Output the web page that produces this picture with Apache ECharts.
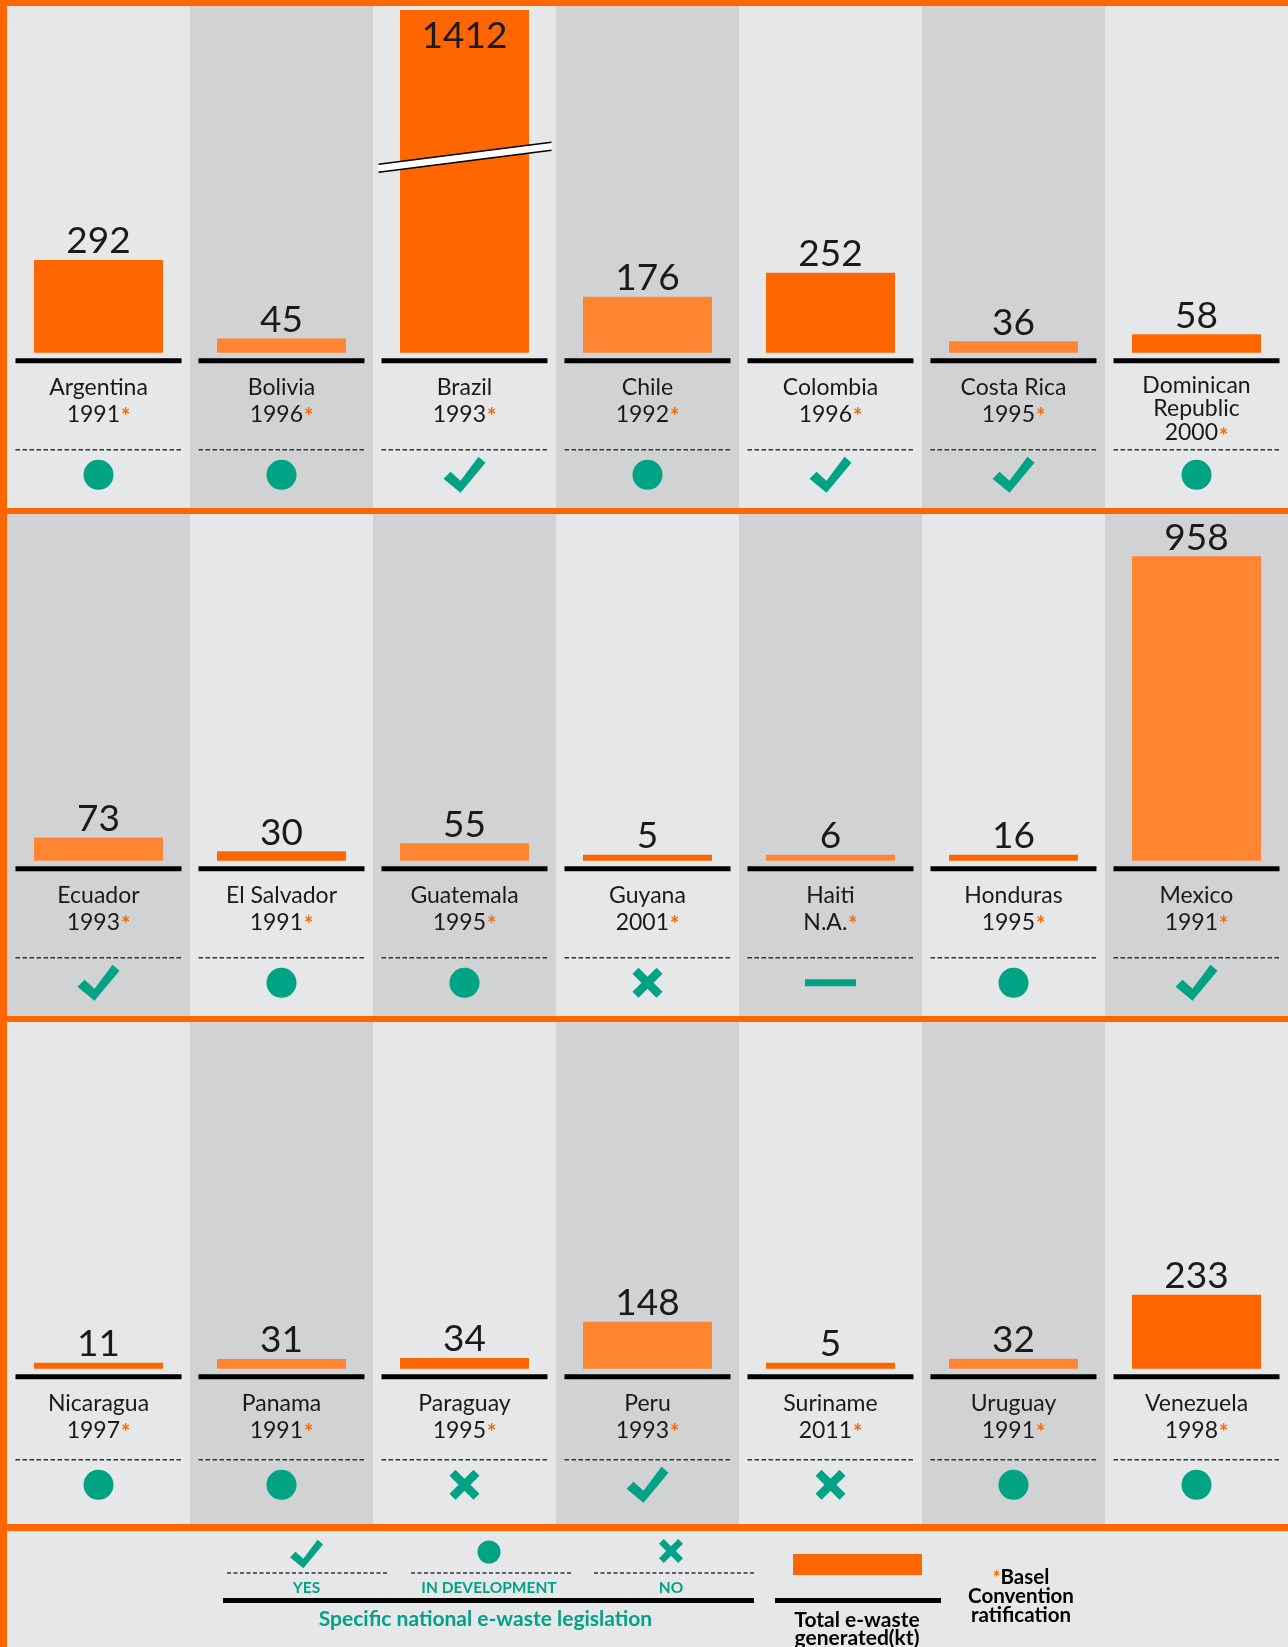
<!DOCTYPE html>
<html>
<head>
<meta charset="utf-8">
<title>E-waste in Latin America</title>
<style>
  html, body { margin: 0; padding: 0; background: #ff6600; }
  #chart { width: 1288px; height: 1647px; }
</style>
<script src="https://cdn.jsdelivr.net/npm/echarts@6/dist/echarts.min.js"></script>
</head>
<body>
<div id="chart"></div>
<script>
// data, in the order of the picture (3 rows of 7)
const countries = [
  'Argentina', 'Bolivia', 'Brazil', 'Chile', 'Colombia', 'Costa Rica', 'Dominican\nRepublic',
  'Ecuador', 'El Salvador', 'Guatemala', 'Guyana', 'Haiti', 'Honduras', 'Mexico',
  'Nicaragua', 'Panama', 'Paraguay', 'Peru', 'Suriname', 'Uruguay', 'Venezuela'
]
const baselYears = [
  '1991', '1996', '1993', '1992', '1996', '1995', '2000',
  '1993', '1991', '1995', '2001', 'N.A.', '1995', '1991',
  '1997', '1991', '1995', '1993', '2011', '1991', '1998'
]
// total e-waste generated (kt)
const ewasteKt = [
  292, 45, 1412, 176, 252, 36, 58,
  73, 30, 55, 5, 6, 16, 958,
  11, 31, 34, 148, 5, 32, 233
]
// specific national e-waste legislation: yes / dev / no / na
const legislation = [
  'dev', 'dev', 'yes', 'dev', 'yes', 'yes', 'dev',
  'yes', 'dev', 'dev', 'no', 'na', 'dev', 'yes',
  'dev', 'dev', 'no', 'yes', 'no', 'dev', 'dev'
]
const legendLabels = ['YES', 'IN DEVELOPMENT', 'NO']

//* styles
const ORANGE = '#ff6600'
const ORANGE_LIGHT = '#ff8533'
const BG_LIGHT = '#e6e7e8'
const BG_DARK = '#d1d2d4'
const TEAL = '#00a383'
const INK = '#1a1a1a'
const FONT = 'Lato, "Open Sans", sans-serif'

const PANEL_TOP = [6, 514, 1022]
const PANEL_H = 502
const COL_W = 183.7
const PER_ROW = 7
const Y_MIN = -488
const Y_MAX = 1078
// the last row has its dashed rule and icons a little higher
const ROW_SHIFT = [0, 0, -6]

// icon outlines (check 42x36, cross 30x30)
const CHECK_PTS = [[0, 22], [7, 15], [17, 24], [35, 0], [42, 6], [17, 36]]
const CROSS_PTS = [[0, 6], [6, 0], [15, 9], [24, 0], [30, 6], [21, 15], [30, 24], [24, 30], [15, 21], [6, 30], [0, 24], [9, 15]]

function placePts(pts, w, h, cx, cy, k) {
  return pts.map(q => [cx + (q[0] - w / 2) * k, cy + (q[1] - h / 2) * k])
}

function statusIcon(status, cx, cy, scale) {
  const k = scale || 1
  if (status === 'yes') {
    return { type: 'polygon', shape: { points: placePts(CHECK_PTS, 42, 36, cx, cy, k) }, style: { fill: TEAL } }
  }
  if (status === 'no') {
    return { type: 'polygon', shape: { points: placePts(CROSS_PTS, 30, 30, cx, cy, k) }, style: { fill: TEAL } }
  }
  if (status === 'dev') {
    return { type: 'circle', shape: { cx: cx, cy: cy, r: 15 * k }, style: { fill: TEAL } }
  }
  return { type: 'rect', shape: { x: cx - 25.5 * k, y: cy - 3.5 * k, width: 51 * k, height: 7 * k }, style: { fill: TEAL } }
}

const grid = []
const xAxis = []
const yAxis = []
const series = []

for (let p = 0; p < 3; p++) {
  const from = p * PER_ROW
  const names = countries.slice(from, from + PER_ROW)
  const shift = ROW_SHIFT[p]
  grid.push({ left: 7, top: PANEL_TOP[p] + 4, width: COL_W * PER_ROW, height: PANEL_H - 4 })
  xAxis.push({ gridIndex: p, type: 'category', data: names, show: false })
  yAxis.push({ gridIndex: p, type: 'value', min: Y_MIN, max: Y_MAX, show: false })

  // column backgrounds, base line, country / year, legislation icon
  series.push({
    type: 'custom',
    xAxisIndex: p,
    yAxisIndex: p,
    z: 1,
    silent: true,
    data: names.map((n, i) => [i, 0]),
    encode: { x: 0, y: 1 },
    renderItem: (params, api) => {
      const gi = from + params.dataIndex
      const pt = api.coord([api.value(0), 0])
      const cx = pt[0]
      const zy = pt[1]
      const colW = api.size([1, 0])[0]
      const top = params.coordSys.y - 4
      const lines = countries[gi].split('\n')
      const lh = lines.length > 1 ? 23.5 : 27
      const text = lines.map(l => '{n|' + l + '}').join('\n') + '\n{n|' + baselYears[gi] + '}{a|*}'
      return {
        type: 'group',
        children: [
          { type: 'rect', shape: { x: cx - colW / 2, y: top, width: colW, height: PANEL_H }, style: { fill: gi % 2 ? BG_DARK : BG_LIGHT } },
          { type: 'rect', shape: { x: cx - 83, y: zy + 5.5, width: 166, height: 5 }, style: { fill: '#000' } },
          {
            type: 'text',
            x: cx,
            y: zy + 21,
            style: {
              text: text,
              align: 'center',
              verticalAlign: 'top',
              rich: {
                n: { fontSize: 23, fontFamily: FONT, fill: INK, lineHeight: lh },
                a: { fontSize: 22, fontFamily: FONT, fill: ORANGE, fontWeight: 'bold', lineHeight: 16, verticalAlign: 'top', padding: [5, 0, 0, 1] }
              }
            }
          },
          { type: 'line', shape: { x1: cx - 83, y1: zy + 97 + shift, x2: cx + 83, y2: zy + 97 + shift }, style: { stroke: '#333', lineWidth: 1.5, lineDash: [4.5, 2.5] } },
          statusIcon(legislation[gi], cx, zy + 122 + shift)
        ]
      }
    }
  })

  // e-waste bars
  series.push({
    type: 'bar',
    xAxisIndex: p,
    yAxisIndex: p,
    z: 3,
    barWidth: 129,
    barMinHeight: 6,
    clip: true,
    label: {
      show: true,
      position: 'top',
      distance: 0,
      fontSize: 37,
      fontFamily: FONT,
      color: INK
    },
    data: ewasteKt.slice(from, from + PER_ROW).map((v, i) => {
      const gi = from + i
      const item = { value: v, itemStyle: { color: gi % 2 ? ORANGE_LIGHT : ORANGE } }
      if (v > Y_MAX) {
        // broken bar: value written inside its top
        item.label = { position: 'insideTop', distance: 8 }
      }
      return item
    })
  })
}

//* legend
const legendCenters = [306.5, 489, 671]
const legendDash = [[227, 387], [411, 572], [594, 754]]
const legendGraphics = [
  { type: 'rect', shape: { x: 7, y: 1531, width: 1281, height: 116 }, style: { fill: BG_LIGHT } },
  statusIcon('yes', legendCenters[0], 1554, 0.79),
  { type: 'circle', shape: { cx: legendCenters[1], cy: 1552, r: 11.5 }, style: { fill: TEAL } },
  statusIcon('no', legendCenters[2], 1551, 0.8),
  { type: 'rect', shape: { x: 223, y: 1598, width: 531, height: 5 }, style: { fill: '#000' } },
  {
    type: 'text', x: 485.5, y: 1619,
    style: { text: 'Specific national e-waste legislation', fill: TEAL, fontSize: 21, fontWeight: 'bold', fontFamily: FONT, align: 'center', verticalAlign: 'middle' }
  },
  { type: 'rect', shape: { x: 793, y: 1554, width: 129, height: 21 }, style: { fill: ORANGE } },
  { type: 'rect', shape: { x: 775, y: 1598, width: 166, height: 5 }, style: { fill: '#000' } },
  {
    type: 'text', x: 857, y: 1611,
    style: { text: 'Total e-waste\ngenerated(kt)', fill: '#000', fontSize: 21, fontWeight: 'bold', fontFamily: FONT, lineHeight: 18, align: 'center', verticalAlign: 'top' }
  },
  {
    type: 'text', x: 1021, y: 1568,
    style: {
      text: '{a|*}{b|Basel}\n{b|Convention}\n{b|ratification}',
      align: 'center',
      verticalAlign: 'top',
      rich: {
        a: { fontSize: 18, fontWeight: 'bold', fontFamily: FONT, fill: ORANGE, lineHeight: 12, verticalAlign: 'top', padding: [1, 0, 0, 0] },
        b: { fontSize: 20.5, fontWeight: 'bold', fontFamily: FONT, fill: '#000', lineHeight: 19 }
      }
    }
  }
]
legendLabels.forEach((t, i) => {
  legendGraphics.push({
    type: 'line',
    shape: { x1: legendDash[i][0], y1: 1573, x2: legendDash[i][1], y2: 1573 },
    style: { stroke: '#333', lineWidth: 1.5, lineDash: [4, 2.5] }
  })
  legendGraphics.push({
    type: 'text', x: legendCenters[i], y: 1588,
    style: { text: t, fill: TEAL, fontSize: 15.5, fontWeight: 'bold', fontFamily: FONT, align: 'center', verticalAlign: 'middle' }
  })
})

const option = {
  animation: false,
  backgroundColor: ORANGE,
  grid: grid,
  xAxis: xAxis,
  yAxis: yAxis,
  series: series,
  graphic: { elements: legendGraphics }
}

const myChart = echarts.init(document.getElementById('chart'))
myChart.setOption(option)

// break mark across the bars that run past the top of the scale
const breaks = []
ewasteKt.forEach((v, gi) => {
  if (v <= Y_MAX) return
  const p = Math.floor(gi / PER_ROW)
  const c = myChart.convertToPixel({ gridIndex: p }, [gi % PER_ROW, 615])
  const l = [c[0] - 86, c[1] + 11]
  const r = [c[0] + 87, c[1] - 11]
  const h = 4
  breaks.push(
    { type: 'polygon', z: 100, shape: { points: [[l[0], l[1] - h], [r[0], r[1] - h], [r[0], r[1] + h], [l[0], l[1] + h]] }, style: { fill: '#fff' } },
    { type: 'line', z: 101, shape: { x1: l[0], y1: l[1] - h, x2: r[0], y2: r[1] - h }, style: { stroke: '#000', lineWidth: 1.5 } },
    { type: 'line', z: 101, shape: { x1: l[0], y1: l[1] + h, x2: r[0], y2: r[1] + h }, style: { stroke: '#000', lineWidth: 1.5 } }
  )
})
myChart.setOption({ graphic: { elements: legendGraphics.concat(breaks) } })
</script>
</body>
</html>
